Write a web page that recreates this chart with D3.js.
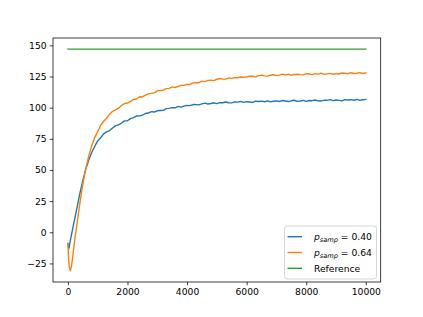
<!DOCTYPE html>
<html>
<head>
<meta charset="utf-8">
<script src="https://cdn.jsdelivr.net/npm/d3@7"></script>
<style>
  body { margin: 0; background: #fff; }
  svg { display: block; font-family: "DejaVu Sans", sans-serif; }
</style>
</head>
<body>
<div id="chart"></div>
<script>
// training steps (x)
var steps = [0, 25, 50, 80, 120, 170, 230, 300,
  400, 500, 600, 700, 800, 900, 1000, 1100, 1200, 1300, 1400, 1500, 1600, 1700, 1800, 1900,
  2000, 2100, 2200, 2300, 2400, 2500, 2600, 2700, 2800, 2900,
  3000, 3100, 3200, 3300, 3400, 3500, 3600, 3700, 3800, 3900,
  4000, 4100, 4200, 4300, 4400, 4500, 4600, 4700, 4800, 4900,
  5000, 5100, 5200, 5300, 5400, 5500, 5600, 5700, 5800, 5900,
  6000, 6100, 6200, 6300, 6400, 6500, 6600, 6700, 6800, 6900,
  7000, 7100, 7200, 7300, 7400, 7500, 7600, 7700, 7800, 7900,
  8000, 8100, 8200, 8300, 8400, 8500, 8600, 8700, 8800, 8900,
  9000, 9100, 9200, 9300, 9400, 9500, 9600, 9700, 9800, 9900, 10000];

// p_samp = 0.40
var series040 = [-9, -13.5, -11, -7, -2, 4, 11, 19,
  31, 41.5, 50.5, 58, 64, 68.8, 73.3, 75.8, 79.0, 80.6, 81.6, 83.7, 85.6, 86.2, 87.7, 89.4,
  89.5, 91.2, 92.0, 93.3, 93.4, 93.9, 95.3, 95.7, 96.8, 96.5,
  97.5, 97.7, 97.8, 99.2, 99.4, 100.0, 99.9, 101.0, 100.4, 101.2,
  101.8, 101.6, 102.5, 102.4, 102.2, 103.0, 103.6, 102.9, 103.3, 103.9,
  103.2, 104.0, 103.9, 104.5, 103.9, 103.8, 104.6, 104.45, 105.0, 104.2,
  104.8, 104.55, 104.2, 105.2, 104.95, 105.2, 104.75, 105.5, 104.65, 105.1,
  105.4, 104.95, 105.7, 105.35, 104.9, 105.5, 105.95, 105.1, 105.35, 105.9,
  105.0, 105.75, 105.6, 106.15, 105.5, 105.3, 106.05, 105.9, 106.45, 105.6,
  106.1, 105.85, 105.5, 106.45, 106.2, 106.4, 105.95, 106.7, 105.85, 106.3, 106.6];

// p_samp = 0.64
var series064 = [-9, -22, -28.5, -30.8, -27.5, -18, -6, 6,
  23, 38.5, 51, 61, 69.5, 76, 80.8, 85.9, 89.1, 91.5, 94.8, 97.1, 98.2, 99.6, 101.7, 103.3,
  103.7, 105.1, 106.6, 107.0, 108.8, 108.6, 110.1, 111.1, 111.5, 111.9,
  113.5, 113.9, 114.0, 115.3, 115.4, 116.7, 116.2, 117.1, 117.9, 117.9,
  118.7, 118.6, 119.9, 120.1, 120.0, 121.2, 120.9, 121.9, 122.0, 121.7,
  122.8, 123.4, 122.9, 122.9, 123.9, 123.5, 124.1, 124.0, 124.6, 124.4,
  124.6, 125.3, 125.2, 124.7, 125.7, 126.1, 125.5, 125.3, 126.0, 126.4,
  125.7, 126.1, 126.9, 126.1, 126.95, 125.9, 126.6, 126.85, 126.5, 126.3,
  127.25, 127.0, 126.55, 127.3, 126.9, 127.65, 126.7, 127.15, 127.5, 126.85,
  127.3, 127.0, 127.8, 127.65, 127.2, 128.05, 127.4, 127.65, 128.1, 127.4, 127.9];

var referenceValue = 147;
var referenceSteps = [0, 10000];

var xTicks = [0, 2000, 4000, 6000, 8000, 10000];
var yTicks = [-25, 0, 25, 50, 75, 100, 125, 150];

var width = 423;
var height = 317;
var margin = { left: 53, right: 42.3, top: 38, bottom: 35 };
var plotW = width - margin.left - margin.right;
var plotH = height - margin.top - margin.bottom;

var svg = d3.select('#chart')
  .append('svg')
  .attr('width', width)
  .attr('height', height);

var g = svg.append('g')
  .attr('transform', 'translate(' + margin.left + ',' + margin.top + ')');

var x = d3.scaleLinear().domain([-500, 10500]).range([0, plotW]);
var y = d3.scaleLinear().domain([-39.9, 155.9]).range([plotH, 0]);

var line = d3.line()
  .x(function (d) { return x(d[0]); })
  .y(function (d) { return y(d[1]); });

var lines = [
  { label: '0.40', color: '#1f77b4', pts: d3.zip(steps, series040) },
  { label: '0.64', color: '#ff7f0e', pts: d3.zip(steps, series064) },
  { label: null, color: '#2ca02c', pts: referenceSteps.map(function (s) { return [s, referenceValue]; }) }
];

g.append('defs').append('clipPath').attr('id', 'clip')
  .append('rect').attr('width', plotW).attr('height', plotH);

g.append('g').attr('clip-path', 'url(#clip)')
  .selectAll('path')
  .data(lines)
  .enter()
  .append('path')
  .attr('d', function (d) { return line(d.pts); })
  .attr('fill', 'none')
  .attr('stroke', function (d) { return d.color; })
  .attr('stroke-width', 1.4)
  .attr('stroke-linejoin', 'round')
  .attr('stroke-linecap', 'square');

// axes
var fmt = function (d) { return d < 0 ? '\u2212' + Math.abs(d) : String(d); };

var xAxis = g.append('g')
  .attr('transform', 'translate(0,' + plotH + ')')
  .call(d3.axisBottom(x).tickValues(xTicks).tickFormat(fmt).tickSize(3.2).tickPadding(3.2));

var yAxis = g.append('g')
  .call(d3.axisLeft(y).tickValues(yTicks).tickFormat(fmt).tickSize(3.2).tickPadding(3.2));

[xAxis, yAxis].forEach(function (ax) {
  ax.select('.domain').remove();
  ax.selectAll('.tick line').attr('stroke', '#000').attr('stroke-width', 0.75);
  ax.selectAll('.tick text').attr('fill', '#000').style('font-size', '9.2px')
    .style('font-family', '"DejaVu Sans", sans-serif');
});

g.append('rect')
  .attr('width', plotW)
  .attr('height', plotH)
  .attr('fill', 'none')
  .attr('stroke', '#000')
  .attr('stroke-width', 0.75);

// legend
var legend = g.append('g')
  .attr('transform', 'translate(' + (284.5 - margin.left) + ',' + (226 - margin.top) + ')');

legend.append('rect')
  .attr('width', 92)
  .attr('height', 53)
  .attr('rx', 2.5)
  .attr('fill', '#fff')
  .attr('fill-opacity', 0.8)
  .attr('stroke', '#cccccc')
  .attr('stroke-width', 0.8);

var item = legend.selectAll('.item')
  .data(lines)
  .enter()
  .append('g')
  .attr('class', 'item')
  .attr('transform', function (d, i) { return 'translate(0,' + (10.7 + i * 15.8) + ')'; });

item.append('line')
  .attr('x1', 3)
  .attr('x2', 17.5)
  .attr('stroke', function (d) { return d.color; })
  .attr('stroke-width', 1.4);

var txt = item.append('text')
  .attr('x', 29.5)
  .attr('y', 3.4)
  .attr('fill', '#000')
  .style('font-size', '9.2px');

txt.each(function (d) {
  var t = d3.select(this);
  if (d.label === null) {
    t.text('Reference');
    return;
  }
  t.append('tspan').style('font-style', 'italic').text('p');
  t.append('tspan').style('font-style', 'italic').style('font-size', '6.6px')
    .attr('dy', 1.6).text('samp');
  t.append('tspan').attr('dy', -1.6).text(' = ' + d.label);
});
</script>
</body>
</html>
